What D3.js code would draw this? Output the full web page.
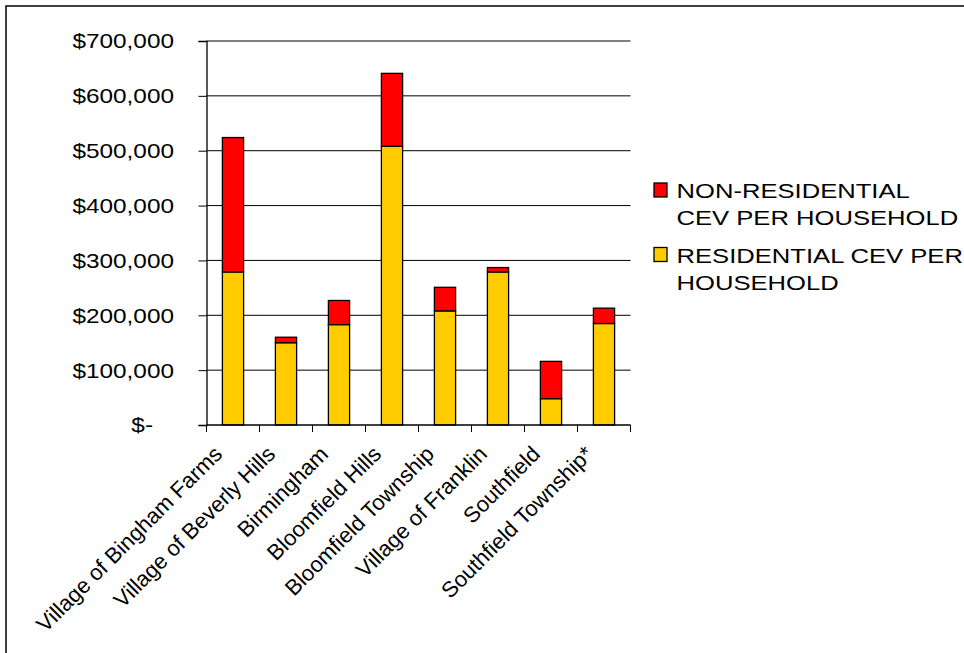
<!DOCTYPE html>
<html lang="en">
<head>
    <meta charset="UTF-8">
    <script src="https://d3js.org/d3.v7.min.js"></script>
    <style>
        body { margin: 0; background: #fff; }
        text { font-family: "Liberation Sans", Arial, sans-serif; fill: #000; }
    </style>
    <title>CEV per household</title>
</head>
<body>
    <script>
        // Chart data
        const categories = ["Village of Bingham Farms", "Village of Beverly Hills", "Birmingham",
            "Bloomfield Hills", "Bloomfield Township", "Village of Franklin", "Southfield",
            "Southfield Township*"];
        const residential = [279000, 150000, 183000, 508000, 208000, 279000, 48000, 185000];
        const nonResidential = [245000, 10000, 44000, 133000, 43000, 8000, 68000, 28000];
        const yTicks = [0, 100000, 200000, 300000, 400000, 500000, 600000, 700000];
        const yTickLabels = ["$-", "$100,000", "$200,000", "$300,000", "$400,000", "$500,000", "$600,000", "$700,000"];
        const seriesNames = ["NON-RESIDENTIAL CEV PER HOUSEHOLD", "RESIDENTIAL CEV PER HOUSEHOLD"];

        const width = 964, height = 653;
        const plot = { left: 206.5, right: 630.5, top: 41, bottom: 425 };
        const colors = { res: "#FFCC00", nonres: "#FF0000" };

        const svg = d3.select("body").append("svg")
            .attr("width", width)
            .attr("height", height);

        // outer frame (only top and left edges show)
        svg.append("rect")
            .attr("x", 6).attr("y", 6)
            .attr("width", width + 10).attr("height", height + 10)
            .attr("fill", "none").attr("stroke", "#000").attr("stroke-width", 1.5);

        const x = d3.scaleBand()
            .domain(categories)
            .range([plot.left, plot.right])
            .paddingInner(0.6)
            .paddingOuter(0.3);

        const y = d3.scaleLinear()
            .domain([0, 700000])
            .range([plot.bottom, plot.top]);

        // gridlines
        svg.append("g")
            .selectAll("line")
            .data(yTicks.slice(1))
            .enter().append("line")
            .attr("x1", plot.left).attr("x2", plot.right)
            .attr("y1", d => y(d)).attr("y2", d => y(d))
            .attr("stroke", "#000").attr("stroke-width", 1);

        // stacked bars
        const rows = categories.map((c, i) => ({ name: c, res: residential[i], nonres: nonResidential[i] }));
        const stack = d3.stack().keys(["res", "nonres"])(rows);

        svg.append("g")
            .selectAll("g")
            .data(stack)
            .enter().append("g")
            .attr("fill", d => colors[d.key])
            .selectAll("rect")
            .data(d => d)
            .enter().append("rect")
            .attr("x", d => x(d.data.name))
            .attr("width", x.bandwidth())
            .attr("y", d => y(d[1]))
            .attr("height", d => y(d[0]) - y(d[1]))
            .attr("stroke", "#000")
            .attr("stroke-width", 1.3);

        // y axis
        const yAxis = svg.append("g")
            .attr("transform", `translate(${plot.left},0)`)
            .call(d3.axisLeft(y).tickValues(yTicks).tickSize(8).tickFormat(""));
        yAxis.select(".domain").attr("stroke", "#000").attr("stroke-width", 1.3);
        yAxis.selectAll(".tick line").attr("stroke", "#000");

        svg.append("g")
            .selectAll("text")
            .data(yTicks)
            .enter().append("text")
            .attr("transform", (d, i) => `translate(${i === 0 ? 153 : 174},${y(d)}) scale(1.16,1)`)
            .attr("dy", "0.35em")
            .attr("text-anchor", "end")
            .style("font-size", "21px")
            .text((d, i) => yTickLabels[i]);

        // x axis: ticks at band boundaries
        const step = x.step();
        const xAxis = svg.append("g");
        xAxis.append("line")
            .attr("x1", plot.left).attr("x2", plot.right)
            .attr("y1", plot.bottom).attr("y2", plot.bottom)
            .attr("stroke", "#000").attr("stroke-width", 1.3);
        xAxis.selectAll("line.tick")
            .data(d3.range(categories.length + 1))
            .enter().append("line")
            .attr("class", "tick")
            .attr("x1", i => plot.left + i * step).attr("x2", i => plot.left + i * step)
            .attr("y1", plot.bottom).attr("y2", plot.bottom + 7)
            .attr("stroke", "#000");

        xAxis.selectAll("text")
            .data(categories)
            .enter().append("text")
            .attr("transform", d => `translate(${x(d) + x.bandwidth() / 2 - 15},${plot.bottom + 25}) rotate(-45)`)
            .attr("dy", "0.35em")
            .attr("text-anchor", "end")
            .style("font-size", "22px")
            .text(d => d);

        // legend
        const legendItems = [
            { color: colors.nonres, lines: ["NON-RESIDENTIAL", "CEV PER HOUSEHOLD"], y: 198 },
            { color: colors.res, lines: ["RESIDENTIAL CEV PER", "HOUSEHOLD"], y: 262.5 }
        ];
        const legend = svg.append("g");
        legendItems.forEach((item, i) => {
            const g = legend.append("g").attr("aria-label", seriesNames[i]);
            g.append("rect")
                .attr("x", 654).attr("y", item.y - 15)
                .attr("width", 13).attr("height", 14)
                .attr("fill", item.color)
                .attr("stroke", "#000").attr("stroke-width", 1.3);
            item.lines.forEach((line, j) => {
                g.append("text")
                    .attr("transform", `translate(676.5,${item.y + j * 27}) scale(1.22,1)`)
                    .style("font-size", "21px")
                    .text(line);
            });
        });
    </script>
</body>
</html>
